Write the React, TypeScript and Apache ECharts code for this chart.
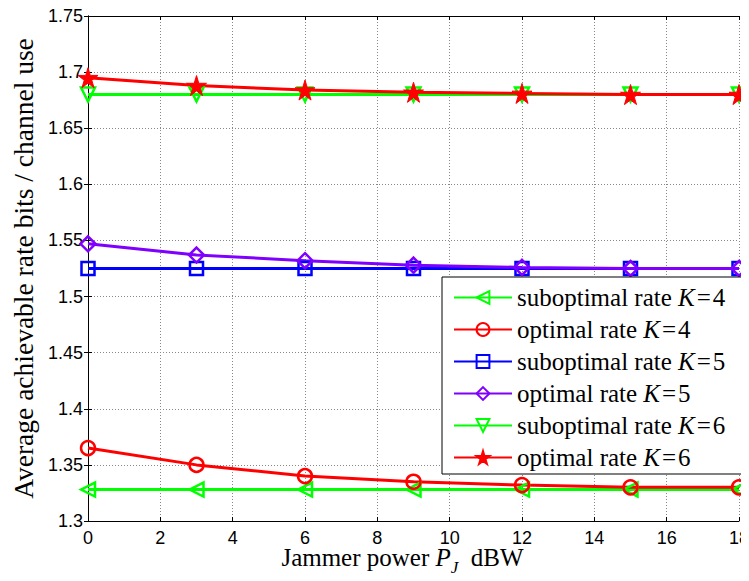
import React, { useEffect, useRef } from "react";
import * as echarts from "echarts";

const jammerPower = [0, 3, 6, 9, 12, 15, 18];
const subK4 = [1.328, 1.328, 1.328, 1.328, 1.328, 1.328, 1.328];
const optK4 = [1.365, 1.35, 1.34, 1.335, 1.332, 1.33, 1.33];
const subK5 = [1.525, 1.525, 1.525, 1.525, 1.525, 1.525, 1.525];
const optK5 = [1.547, 1.537, 1.532, 1.528, 1.526, 1.525, 1.525];
const subK6 = [1.68, 1.68, 1.68, 1.68, 1.68, 1.68, 1.68];
const optK6 = [1.695, 1.688, 1.684, 1.682, 1.681, 1.68, 1.68];
const seriesNames = [
  "suboptimal rate K=4",
  "optimal rate K=4",
  "suboptimal rate K=5",
  "optimal rate K=5",
  "suboptimal rate K=6",
  "optimal rate K=6",
];

const STAR = "path://M50,0 L61,35 L98,35 L68,57 L79,91 L50,70 L21,91 L32,57 L2,35 L39,35 Z";
const SERIF = "'Liberation Serif', 'Times New Roman', serif";
const SANS = "'Liberation Sans', Arial, sans-serif";

export default function App() {
  const ref = useRef<HTMLDivElement>(null);
  useEffect(() => {
    const chart = echarts.init(ref.current!, undefined, { renderer: "svg" });
    const mk = (
      name: string,
      vals: number[],
      color: string,
      symbol: string,
      size: number,
      rotate: number,
      filled: boolean
    ) => ({
      name,
      type: "line",
      data: jammerPower.map((x, i) => [x, vals[i]]),
      symbol,
      symbolSize: size,
      symbolRotate: rotate,
      showAllSymbol: true,
      lineStyle: { color, width: 3 },
      itemStyle: filled
        ? { color, borderColor: color, borderWidth: 1 }
        : { color: "rgba(255,255,255,0)", borderColor: color, borderWidth: 2.5 },
      emphasis: { disabled: true },
      z: 3,
    });
    const ticks = { show: true, inside: true, length: 4, lineStyle: { color: "#000", width: 1 } };
    const axisLine = { show: true, lineStyle: { color: "#000", width: 1 } };
    const split = { show: true, lineStyle: { color: "#888", type: [1, 2] as any, width: 1 } };
    const rt = { fontFamily: SERIF, fontSize: 25, color: "#000", lineHeight: 24 };
    chart.setOption({
      animation: false,
      backgroundColor: "#fff",
      grid: { left: 88, right: 10, top: 16, bottom: 60, containLabel: false, outerBoundsMode: "none" },
      xAxis: [
        {
          type: "value",
          min: 0,
          max: 18,
          interval: 2,
          axisLine,
          axisTick: ticks,
          splitLine: split,
          axisLabel: { color: "#000", fontFamily: SANS, fontSize: 18, margin: 8 },
          name: "{t|Jammer power }{i|P}{s|J}{t|  dBW}",
          nameLocation: "middle",
          nameGap: 18,
          nameMoveOverlap: false,
          nameTextStyle: {
            padding: [0, 22, 0, 0],
            rich: {
              t: { fontFamily: SERIF, fontSize: 25, color: "#000" },
              i: { fontFamily: SERIF, fontSize: 25, fontStyle: "italic", color: "#000" },
              s: { fontFamily: SERIF, fontSize: 17, fontStyle: "italic", color: "#000", padding: [20, 0, 0, 0] },
            },
          },
        },
        {
          type: "value",
          position: "top",
          min: 0,
          max: 18,
          interval: 2,
          axisLine,
          axisTick: ticks,
          splitLine: { show: false },
          axisLabel: { show: false },
        },
      ],
      yAxis: [
        {
          type: "value",
          min: 1.3,
          max: 1.75,
          interval: 0.05,
          axisLine,
          axisTick: ticks,
          splitLine: split,
          axisLabel: { color: "#000", fontFamily: SANS, fontSize: 18, margin: 5 },
          name: "Average achievable rate bits / channel use",
          nameLocation: "middle",
          nameRotate: 90,
          nameGap: 51,
          nameMoveOverlap: false,
          nameTextStyle: { fontFamily: SERIF, fontSize: 27.5, color: "#000" },
        },
        {
          type: "value",
          position: "right",
          min: 1.3,
          max: 1.75,
          interval: 0.05,
          axisLine,
          axisTick: ticks,
          splitLine: { show: false },
          axisLabel: { show: false },
        },
      ],
      legend: {
        orient: "vertical",
        left: 442,
        top: 277,
        padding: [8, 19, 4, 11],
        itemWidth: 58,
        itemHeight: 16,
        itemGap: 7,
        backgroundColor: "#fff",
        borderColor: "#000",
        borderWidth: 1,
        borderRadius: 0,
        data: seriesNames,
        formatter: (name: string) => {
          const m = name.match(/^(.*) K=(\d)$/);
          if (!m) return name;
          return `{t|${m[1]} }{k|K}{e|=}{t|${m[2]}}`;
        },
        textStyle: {
          rich: {
            t: rt,
            k: { ...rt, fontStyle: "italic" },
            e: { ...rt, padding: [0, 2, 0, 2] },
          },
        },
      },
      series: [
        mk(seriesNames[0], subK4, "#00ff00", "triangle", 14, 90, false),
        mk(seriesNames[1], optK4, "#ff0000", "circle", 14, 0, false),
        mk(seriesNames[2], subK5, "#0000ff", "rect", 13, 0, false),
        mk(seriesNames[3], optK5, "#8000ff", "diamond", 15, 0, false),
        mk(seriesNames[4], subK6, "#00ff00", "triangle", 14, 180, false),
        mk(seriesNames[5], optK6, "#ff0000", STAR, 20, 0, true),
      ],
    });
    return () => chart.dispose();
  }, []);
  return <div ref={ref} style={{ width: 749, height: 581, margin: -8 }} />;
}
